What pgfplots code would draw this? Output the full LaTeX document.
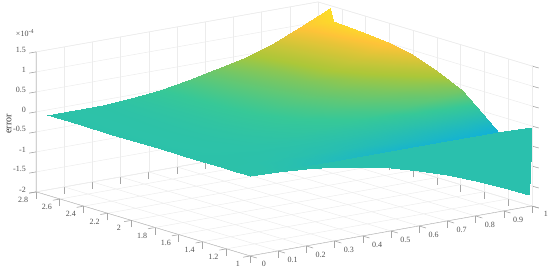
\documentclass[border=0pt]{standalone}
\usepackage{fontspec}
\setmainfont{Liberation Serif}
\usepackage{pgfplots}
\pgfplotsset{compat=1.18}
\definecolor{tickgray}{RGB}{80,80,80}
\definecolor{axgray}{RGB}{165,165,165}
\definecolor{gridgray}{RGB}{236,236,236}
\begin{document}
\begin{tikzpicture}
\useasboundingbox (0pt,0pt) rectangle (550pt,270pt);
\begin{axis}[
  at={(36pt,14pt)},anchor=south west,
  x={(282pt,50pt)},y={(-118.9pt,35.6pt)},z={(0pt,40pt)},
  xmin=0,xmax=1,ymin=1,ymax=2.8,zmin=-2,zmax=1.5,
  xtick={0,0.1,...,1.01},ytick={1,1.2,...,2.81},ztick={-2,-1.5,...,1.5},
  xtick pos=left,ytick pos=left,ztick pos=left,
  scaled ticks=false,
  /pgf/number format/fixed,/pgf/number format/precision=1,
  /pgf/number format/assume math mode=true,
  grid=major,
  major grid style={gridgray,line width=0.5pt},
  axis line style={gridgray,line width=0.5pt},
  tick style={axgray,line width=0.6pt},
  tick align=outside,
  major tick length=7pt,
  tick label style={font=\fontsize{8}{8}\selectfont,text=tickgray},
  xticklabel style={xshift=2.5pt},
  colormap={parula}{rgb=(.2422,.1504,.6603) rgb=(.2810,.3228,.9579) rgb=(.1786,.5289,.9682) rgb=(.0689,.6948,.8394) rgb=(.2161,.7843,.5923) rgb=(.6720,.7793,.2227) rgb=(.9970,.7659,.2199) rgb=(.9769,.9839,.0805)},
  point meta min=-1.83,point meta max=1.62,
]
\addplot3[surf,shader=interp,mesh/rows=12,mesh/cols=11,point meta=explicit] table[row sep=\\,meta=m]{
x y z m\\
0 1 0 0\\ 0.1 1 -0.017 -0.017\\ 0.2 1 -0.070 -0.070\\ 0.3 1 -0.157 -0.157\\ 0.4 1 -0.279 -0.279\\ 0.5 1 -0.436 -0.436\\ 0.6 1 -0.628 -0.628\\ 0.7 1 -0.855 -0.855\\ 0.8 1 -1.117 -1.117\\ 0.9 1 -1.414 -1.414\\ 0.99 1 -1.71 -1.71\\
0 1.05 0 0\\ 0.1 1.05 -0.014 -0.014\\ 0.2 1.05 -0.057 -0.057\\ 0.3 1.05 -0.130 -0.130\\ 0.4 1.05 -0.232 -0.232\\ 0.5 1.05 -0.364 -0.364\\ 0.6 1.05 -0.524 -0.524\\ 0.7 1.05 -0.716 -0.716\\ 0.8 1.05 -0.936 -0.936\\ 0.9 1.05 -1.188 -1.188\\ 0.99 1.05 -1.44 -1.44\\
0 1.12 0 0\\ 0.1 1.12 -0.010 -0.010\\ 0.2 1.12 -0.041 -0.041\\ 0.3 1.12 -0.094 -0.094\\ 0.4 1.12 -0.167 -0.167\\ 0.5 1.12 -0.265 -0.265\\ 0.6 1.12 -0.383 -0.383\\ 0.7 1.12 -0.522 -0.522\\ 0.8 1.12 -0.685 -0.685\\ 0.9 1.12 -0.871 -0.871\\ 0.99 1.12 -1.06 -1.06\\
0 1.244 0 0\\ 0.1 1.244 -0.003 -0.003\\ 0.2 1.244 -0.014 -0.014\\ 0.3 1.244 -0.032 -0.032\\ 0.4 1.244 -0.059 -0.059\\ 0.5 1.244 -0.093 -0.093\\ 0.6 1.244 -0.135 -0.135\\ 0.7 1.244 -0.184 -0.184\\ 0.8 1.244 -0.242 -0.242\\ 0.9 1.244 -0.310 -0.310\\ 0.99 1.244 -0.40 -0.40\\
0 1.395 0 0\\ 0.1 1.395 0 0\\ 0.2 1.395 0 0\\ 0.3 1.395 -0.001 -0.001\\ 0.4 1.395 -0.001 -0.001\\ 0.5 1.395 -0.002 -0.002\\ 0.6 1.395 -0.003 -0.003\\ 0.7 1.395 -0.005 -0.005\\ 0.8 1.395 -0.006 -0.006\\ 0.9 1.395 -0.008 -0.008\\ 0.99 1.395 -0.01 -0.01\\
0 1.5635 0 0\\ 0.1 1.5635 0.003 0.003\\ 0.2 1.5635 0.013 0.013\\ 0.3 1.5635 0.031 0.031\\ 0.4 1.5635 0.058 0.058\\ 0.5 1.5635 0.094 0.094\\ 0.6 1.5635 0.139 0.139\\ 0.7 1.5635 0.190 0.190\\ 0.8 1.5635 0.254 0.254\\ 0.9 1.5635 0.329 0.329\\ 0.99 1.5635 0.41 0.41\\
0 1.774 0 0\\ 0.1 1.774 0.005 0.005\\ 0.2 1.774 0.019 0.019\\ 0.3 1.774 0.048 0.048\\ 0.4 1.774 0.093 0.093\\ 0.5 1.774 0.155 0.155\\ 0.6 1.774 0.229 0.229\\ 0.7 1.774 0.315 0.315\\ 0.8 1.774 0.424 0.424\\ 0.9 1.774 0.554 0.554\\ 0.99 1.774 0.70 0.72\\
0 1.984 0 0\\ 0.1 1.984 0.005 0.005\\ 0.2 1.984 0.022 0.022\\ 0.3 1.984 0.058 0.058\\ 0.4 1.984 0.116 0.116\\ 0.5 1.984 0.196 0.196\\ 0.6 1.984 0.292 0.292\\ 0.7 1.984 0.403 0.403\\ 0.8 1.984 0.549 0.549\\ 0.9 1.984 0.724 0.75\\ 0.99 1.984 0.925 1.0\\
0 2.186 0 0\\ 0.1 2.186 0.005 0.005\\ 0.2 2.186 0.021 0.021\\ 0.3 2.186 0.061 0.061\\ 0.4 2.186 0.124 0.124\\ 0.5 2.186 0.215 0.215\\ 0.6 2.186 0.323 0.323\\ 0.7 2.186 0.448 0.448\\ 0.8 2.186 0.616 0.66\\ 0.9 2.186 0.820 0.90\\ 0.99 2.186 1.06 1.18\\
0 2.42 0 0\\ 0.1 2.42 0.004 0.004\\ 0.2 2.42 0.019 0.019\\ 0.3 2.42 0.061 0.061\\ 0.4 2.42 0.132 0.132\\ 0.5 2.42 0.235 0.235\\ 0.6 2.42 0.357 0.357\\ 0.7 2.42 0.498 0.498\\ 0.8 2.42 0.692 0.73\\ 0.9 2.42 0.931 1.0\\ 0.99 2.42 1.12 1.28\\
0 2.648 0 0\\ 0.1 2.648 0.003 0.003\\ 0.2 2.648 0.016 0.016\\ 0.3 2.648 0.060 0.060\\ 0.4 2.648 0.137 0.137\\ 0.5 2.648 0.253 0.253\\ 0.6 2.648 0.388 0.388\\ 0.7 2.648 0.542 0.56\\ 0.8 2.648 0.763 0.80\\ 0.9 2.648 1.039 1.1\\ 0.99 2.648 1.17 1.32\\
0 2.71 0 0\\ 0.1 2.71 0.003 0.003\\ 0.2 2.71 0.015 0.015\\ 0.3 2.71 0.060 0.060\\ 0.4 2.71 0.140 0.140\\ 0.5 2.71 0.260 0.260\\ 0.6 2.71 0.400 0.400\\ 0.7 2.71 0.560 0.58\\ 0.8 2.71 0.790 0.82\\ 0.9 2.71 1.080 1.15\\ 1.0 2.70 1.44 1.36\\
};
\addplot3[surf,shader=interp,mesh/rows=2,mesh/cols=11,point meta={-0.03}] table[row sep=\\]{
x y z\\
0 1 0\\ 0.1 1 -0.017\\ 0.2 1 -0.070\\ 0.3 1 -0.157\\ 0.4 1 -0.279\\ 0.5 1 -0.436\\ 0.6 1 -0.628\\ 0.7 1 -0.855\\ 0.8 1 -1.117\\ 0.9 1 -1.414\\ 0.99 1 -1.71\\
0 1 0\\ 0.1 1 0\\ 0.2 1 0\\ 0.3 1 0\\ 0.4 1 0\\ 0.5 1 0\\ 0.6 1 0\\ 0.7 1 0\\ 0.8 1 0\\ 0.9 1 0\\ 1.0 1 -0.02\\
};
\draw[axgray,line width=0.6pt] (axis cs:1,1,-2)--(axis cs:0,1,-2)--(axis cs:0,2.8,-2)--(axis cs:0,2.8,1.5);
\end{axis}
\node[rotate=90,font=\fontsize{10}{10}\selectfont,text=black!80] at (9pt,146pt) {error};
\node[font=\fontsize{8}{8}\selectfont,text=tickgray] at (25pt,237pt) {×10\textsuperscript{-4}};
\end{tikzpicture}
\end{document}
